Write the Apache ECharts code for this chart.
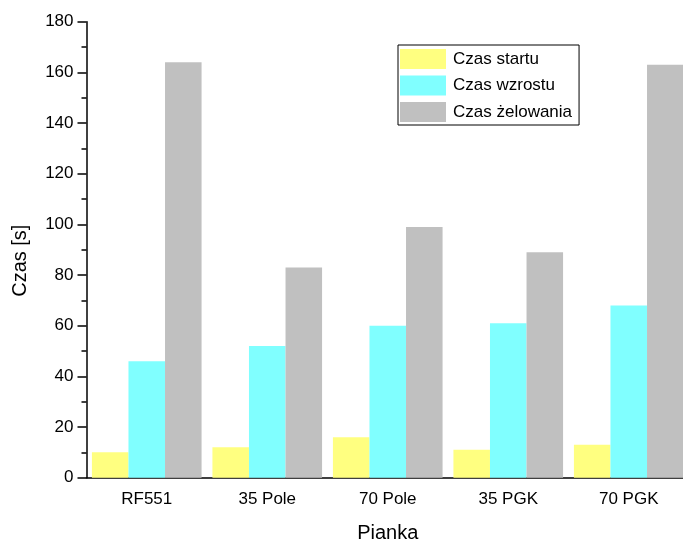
<!DOCTYPE html>
<html>
<head>
<meta charset="utf-8">
<script src="https://cdn.jsdelivr.net/npm/echarts@6/dist/echarts.min.js"></script>
<style>
  html, body { margin: 0; padding: 0; background: #fff; }
  #chart { width: 683px; height: 543px; }
</style>
</head>
<body>
<div id="chart"></div>
<script>
// dane
const categories = ['RF551', '35 Pole', '70 Pole', '35 PGK', '70 PGK']
const czasStartu = [10, 12, 16, 11, 13]
const czasWzrostu = [46, 52, 60, 61, 68]
const czasZelowania = [164, 83, 99, 89, 163]
const seriesNames = ['Czas startu', 'Czas wzrostu', 'Czas żelowania']

const font = 'Liberation Sans, Arial, sans-serif'
const axisColor = '#000'

const myChart = echarts.init(document.getElementById('chart'))

const option = {
  backgroundColor: '#fff',
  animation: false,
  textStyle: { fontFamily: font },
  grid: {
    left: 86.5,
    top: 21.7,
    bottom: 65.3,
    right: -6,
    outerBoundsMode: 'none'
  },
  legend: {
    orient: 'vertical',
    left: 398,
    top: 45,
    icon: 'rect',
    itemWidth: 46,
    itemHeight: 20,
    itemGap: 6.5,
    padding: [4, 7, 3, 2],
    borderColor: '#000',
    borderWidth: 1,
    textStyle: { fontSize: 17, color: '#000', fontFamily: font, padding: [0, 0, 0, 2] },
    data: seriesNames
  },
  xAxis: [{
    type: 'category',
    data: categories,
    name: 'Pianka',
    nameLocation: 'middle',
    nameGap: 46,
    nameTextStyle: { fontSize: 20, color: '#000', fontFamily: font },
    axisLine: { lineStyle: { color: axisColor, width: 1.5 } },
    axisTick: {
      alignWithLabel: true,
      length: 9,
      lineStyle: { color: axisColor, width: 1.5 }
    },
    axisLabel: { fontSize: 17, color: '#000', margin: 13, fontFamily: font }
  }, {
    // krótkie znaczniki na granicach kategorii
    type: 'category',
    data: categories,
    position: 'bottom',
    axisLine: { show: false },
    axisTick: { length: 4, lineStyle: { color: axisColor, width: 1.5 } },
    axisLabel: { show: false }
  }],
  yAxis: {
    type: 'value',
    min: 0,
    max: 180,
    interval: 20,
    name: 'Czas [s]',
    nameLocation: 'middle',
    nameGap: 56,
    nameTextStyle: { fontSize: 20, color: '#000', fontFamily: font, padding: [0, 22, 0, 0] },
    axisLine: { show: true, lineStyle: { color: axisColor, width: 1.5 } },
    axisTick: { show: true, length: 9, lineStyle: { color: axisColor, width: 1.5 } },
    minorTick: { show: true, splitNumber: 2, length: 5, lineStyle: { color: axisColor, width: 1.5 } },
    splitLine: { show: false },
    axisLabel: { fontSize: 17, color: '#000', margin: 13, fontFamily: font }
  },
  series: [{
    name: seriesNames[0],
    type: 'bar',
    data: czasStartu,
    barGap: '0%',
    barCategoryGap: '9%',
    itemStyle: { color: '#FFFF80' }
  }, {
    name: seriesNames[1],
    type: 'bar',
    data: czasWzrostu,
    barGap: '0%',
    barCategoryGap: '9%',
    itemStyle: { color: '#80FFFF' }
  }, {
    name: seriesNames[2],
    type: 'bar',
    data: czasZelowania,
    barGap: '0%',
    barCategoryGap: '9%',
    itemStyle: { color: '#C0C0C0' }
  }]
}

myChart.setOption(option)
</script>
</body>
</html>
